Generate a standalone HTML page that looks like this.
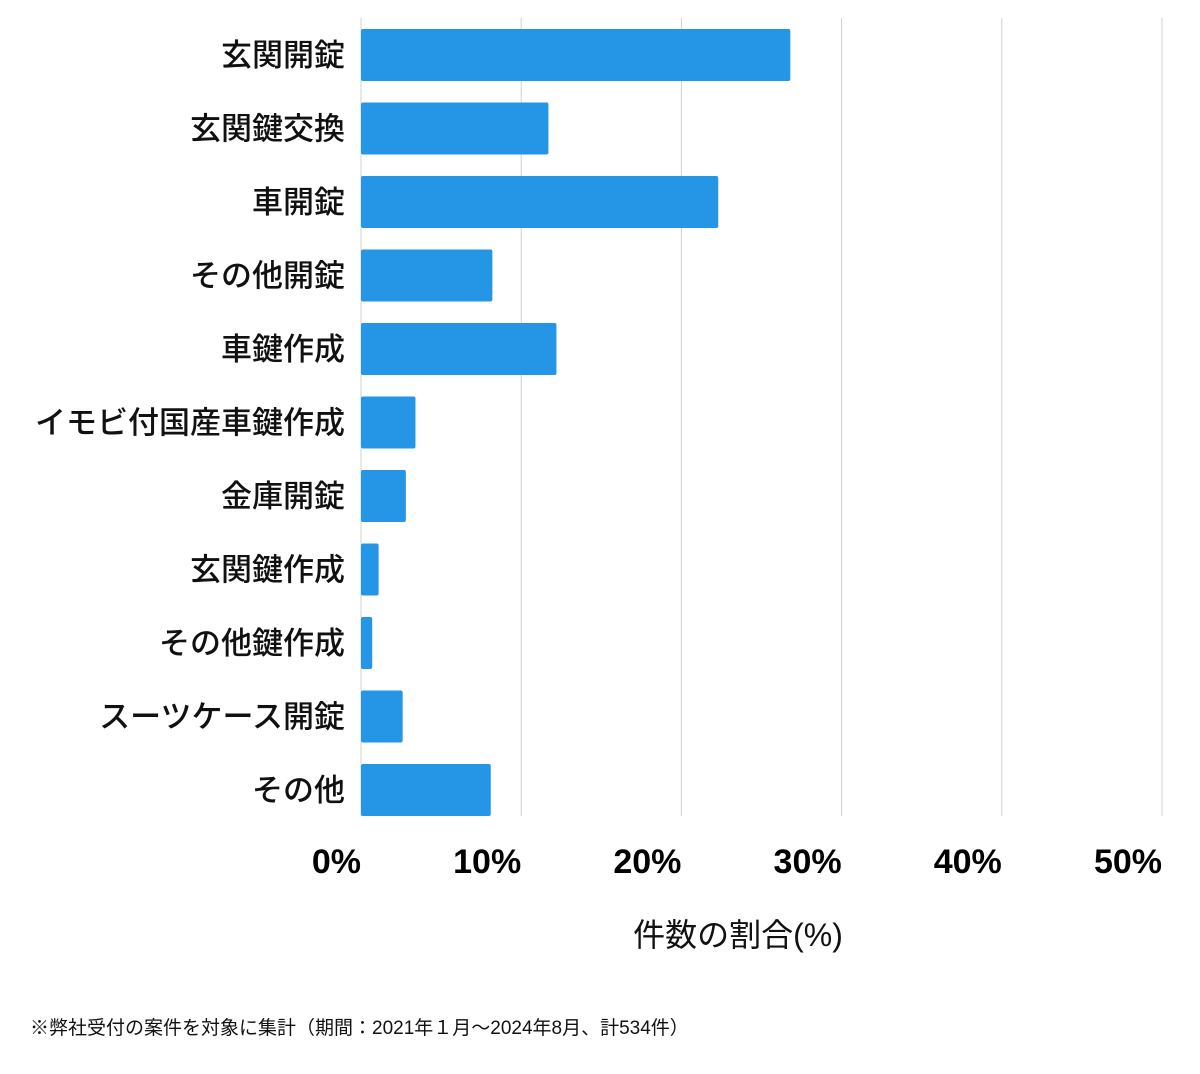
<!DOCTYPE html>
<html><head><meta charset="utf-8">
<style>
html,body{margin:0;padding:0;background:#fff;}
body{width:1200px;height:1069px;overflow:hidden;font-family:"Liberation Sans","Noto Sans CJK JP",sans-serif;}
</style></head>
<body>
<svg id="chart" width="1200" height="1069" xmlns="http://www.w3.org/2000/svg" font-family="'Liberation Sans','Noto Sans CJK JP',sans-serif"></svg>
<script>
const categories = ["玄関開錠","玄関鍵交換","車開錠","その他開錠","車鍵作成","イモビ付国産車鍵作成","金庫開錠","玄関鍵作成","その他鍵作成","スーツケース開錠","その他"];
const values = [26.8,11.7,22.3,8.2,12.2,3.4,2.8,1.1,0.7,2.6,8.1];
const ticks = [0,10,20,30,40,50];
const tickLabels = ["0%","10%","20%","30%","40%","50%"];

const NS="http://www.w3.org/2000/svg";
const svg=document.getElementById('chart');
const x0=361, x1=1162, xMax=50;
const xs=v=>x0+(x1-x0)*v/xMax;
const yTop=18, yBot=816, step=73.5, firstC=55, barH=52;
const yc=i=>firstC+i*step;
function mk(tag,attrs){const e=document.createElementNS(NS,tag);for(const k in attrs)e.setAttribute(k,attrs[k]);svg.appendChild(e);return e;}

ticks.forEach((t,i)=>{
  const g=mk('line',{x1:xs(t),x2:xs(t),y1:yTop,y2:yBot,stroke:'#d0d0d0','stroke-width':1});
  
  
  const tx=mk('text',{x:xs(t),y:873,'text-anchor':'end','font-size':34,'font-weight':'bold',fill:'#000'});
  tx.textContent=tickLabels[i];
  
  
});

categories.forEach((c,i)=>{
  const r=mk('rect',{x:x0,y:yc(i)-barH/2,width:xs(values[i])-x0,height:barH,fill:'#2596e6',rx:2});
  
  
  const t=mk('text',{x:345,y:yc(i)+11,'text-anchor':'end','font-size':31,'font-weight':500,fill:'#111'});
  t.textContent=c;
  
  
});

const at=mk('text',{x:738,y:946,'text-anchor':'middle','font-size':32,fill:'#111'});
at.textContent="件数の割合(%)";



const fn=mk('text',{x:30,y:1034,'font-size':19,fill:'#111'});
fn.textContent="※弊社受付の案件を対象に集計（期間：2021年１月〜2024年8月、計534件）";


</script>
</body></html>
